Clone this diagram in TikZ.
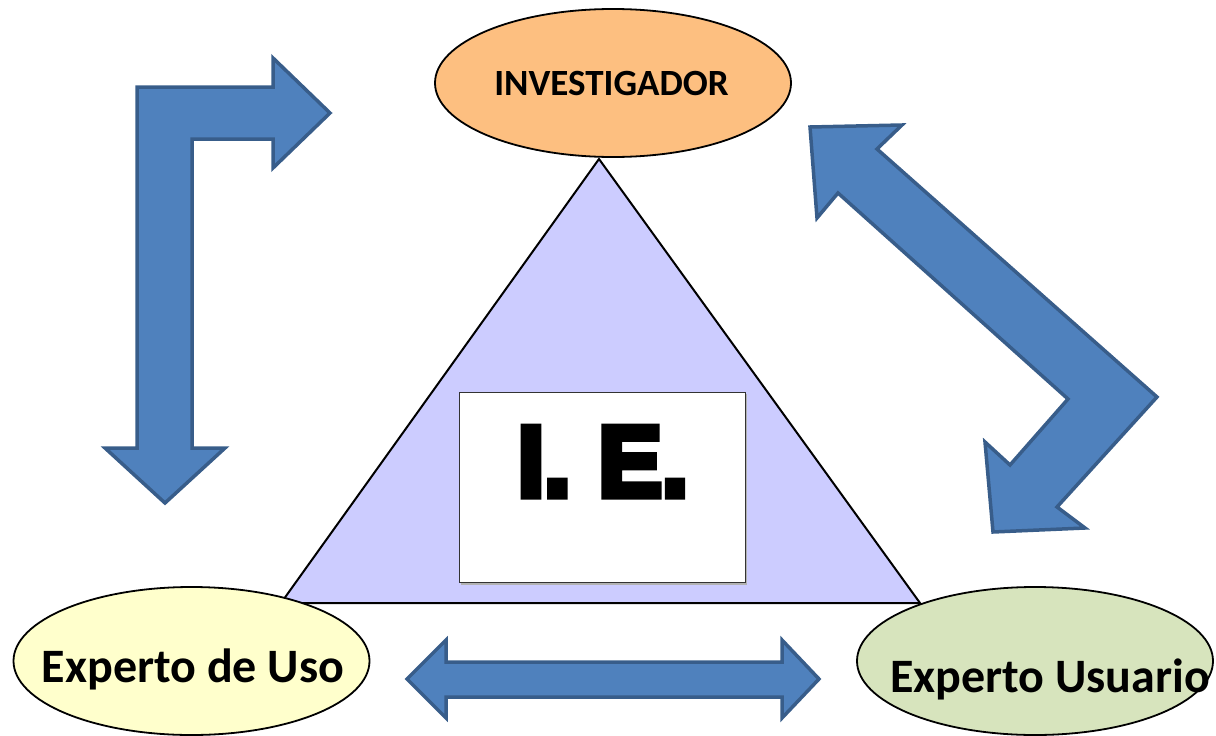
\documentclass[tikz,border=0pt]{standalone}
\usepackage{fontspec}
\setmainfont{Carlito}
\newfontfamily\iefont{Liberation Sans Bold}[FakeBold=7,FakeStretch=0.95]
\usetikzlibrary{shapes.geometric}
\definecolor{arrowfill}{HTML}{4F81BD}
\definecolor{arrowline}{HTML}{385D8A}
\definecolor{invfill}{HTML}{FDBF80}
\definecolor{trifill}{HTML}{CCCCFF}
\definecolor{usofill}{HTML}{FFFFCC}
\definecolor{usufill}{HTML}{D7E4BD}
\begin{document}
\begin{tikzpicture}[x=1pt,y=-1pt,
  blockarrow/.style={fill=arrowfill,draw=arrowline,line width=3.5pt,line join=miter},
  role/.style={ellipse,draw=black,line width=1.8pt,inner sep=0pt,minimum width=356pt,minimum height=148pt},
  rolelabel/.style={font=\fontsize{48}{52}\selectfont\bfseries,inner sep=0pt},
  trishape/.style={fill=trifill,draw=black,line width=2pt,line join=miter}]
\useasboundingbox (0,0) rectangle (1216,736);
% triangle
\coordinate (apex) at (599,159);
\coordinate (bl) at (281,603);
\coordinate (br) at (920,603);
\draw[trishape] (apex) -- (bl) -- (br) -- cycle;
% I.E. box
\fill[gray!60] (461,394) rectangle (747,585);
\node[draw=black!80,fill=white,line width=1.2pt,inner sep=0pt,minimum width=286pt,minimum height=190pt,anchor=north west] (iebox) at (459,392) {};
\node[font=\iefont\fontsize{100}{100}\selectfont,inner sep=0pt,anchor=base] (ie) at (603,496) {I.\hspace{28pt}E.};
% ellipses
\node[role,fill=invfill] (inv) at (613,83) {};
\node[font=\fontsize{37}{40}\selectfont\bfseries,inner sep=0pt] (invT) at (611.5,83.5) {INVESTIGADOR};
\node[role,fill=usofill] (uso) at (191.5,661) {};
\node[rolelabel,anchor=base] (usoT) at (193,682) {Experto de Uso};
\node[role,fill=usufill] (usu) at (1035,661) {};
\node[rolelabel,anchor=base west] (usuT) at (890,692) {Experto Usuario};
% bent arrow top-left
\draw[blockarrow] (137,87) -- (273,87) -- (273,58) -- (330,113) -- (273,168) -- (273,139)
  -- (192,139) -- (192,448) -- (225,448) -- (165,503) -- (105,448) -- (137,448) -- cycle;
% double horizontal arrow
\draw[blockarrow] (407,679) -- (446,640) -- (446,662) -- (782,662) -- (782,640) -- (819,679)
  -- (782,718) -- (782,697) -- (446,697) -- (446,718) -- cycle;
% bent double arrow right
\draw[blockarrow] (810,127) -- (902,125) -- (877,149) -- (1157,397) -- (1057,507) -- (1085,528)
  -- (993,532) -- (985,442) -- (1010,465) -- (1068,399) -- (838,193) -- (817,218) -- cycle;
\end{tikzpicture}
\end{document}
